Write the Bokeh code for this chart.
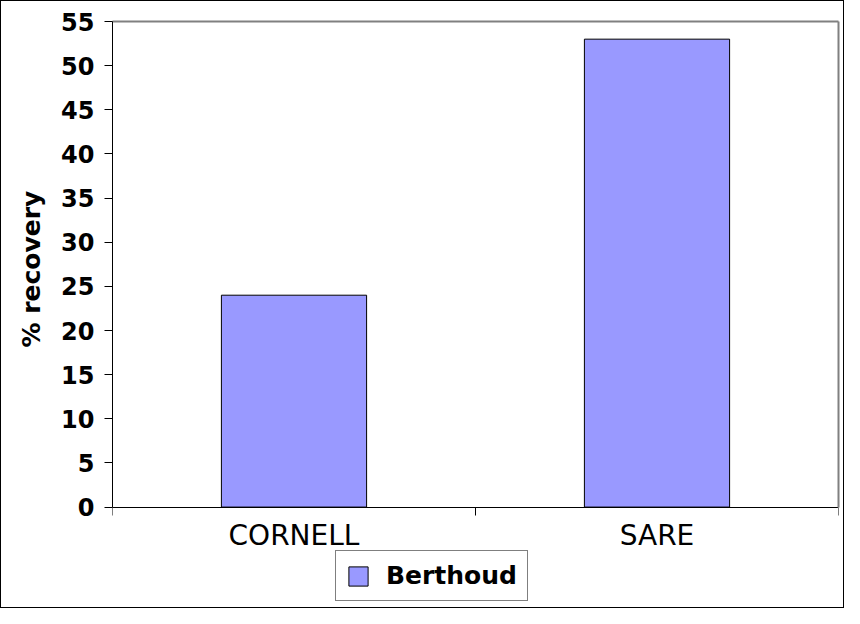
from bokeh.plotting import figure
from bokeh.models import ColumnDataSource, FixedTicker, Range1d, Legend, LegendItem, LinearAxis, Title
from bokeh.embed import file_html
from bokeh.resources import INLINE

categories = ["CORNELL", "SARE"]
recovery = [24, 53]
series_name = "Berthoud"
y_label = "% recovery"
y_ticks = [0, 5, 10, 15, 20, 25, 30, 35, 40, 45, 50, 55]
y_min, y_max = 0, 55

x_centers = [i + 0.5 for i in range(len(categories))]
x_bounds = [float(i) for i in range(len(categories) + 1)]

src = ColumnDataSource(data=dict(x=x_centers, top=recovery, cat=categories))

# the frame extends below zero to host the legend; x axis sits at y = 0
below_zero = 11.6
p = figure(width=844, height=608, output_backend="svg", toolbar_location=None,
           x_range=Range1d(0, len(categories)), y_range=Range1d(y_min - below_zero, y_max),
           min_border_left=104, min_border_right=7, min_border_top=20, min_border_bottom=0)
p.styles = {"border": "1px solid black"}
p.background_fill_color = "white"
p.border_fill_color = "white"
p.outline_line_color = None
p.xgrid.visible = False
p.ygrid.visible = False

r = p.vbar(x="x", top="top", width=0.4, bottom=0, source=src,
           fill_color="#9999ff", line_color="black", line_width=1)

# y axis
ya = p.yaxis[0]
ya.ticker = FixedTicker(ticks=y_ticks)
ya.bounds = (y_min, y_max)
ya.major_label_text_font = "DejaVu Sans"
ya.major_label_text_font_style = "bold"
ya.major_label_text_font_size = "24px"
ya.major_label_text_color = "black"
ya.major_tick_out = 8
ya.major_tick_in = 0
ya.minor_tick_line_color = None
ya.axis_line_color = "black"
ya.major_tick_line_color = "black"
ya.major_label_standoff = 10

# y axis title, placed alongside the 0..55 part of the axis
ytitle = Title(text=y_label, align="left", offset=262,
               text_font="DejaVu Sans", text_font_style="bold",
               text_font_size="25px", text_color="black", standoff=26)
p.add_layout(ytitle, "left")

# x axis at y = 0
xa = p.xaxis[0]
xa.fixed_location = 0
xa.ticker = FixedTicker(ticks=x_centers, minor_ticks=x_bounds)
xa.major_label_overrides = {c: lab for c, lab in zip(x_centers, categories)}
xa.major_tick_line_color = None
xa.minor_tick_line_color = "black"
xa.minor_tick_out = 8
xa.minor_tick_in = 0
xa.axis_line_color = "black"
xa.major_label_text_font = "DejaVu Sans"
xa.major_label_text_font_size = "28px"
xa.major_label_text_color = "black"
xa.major_label_standoff = 4

# grey plot-area border on top and right
top_ax = LinearAxis(ticker=FixedTicker(ticks=[]), axis_line_color="#808080", axis_line_width=2,
                    major_tick_line_color=None, minor_tick_line_color=None,
                    major_label_text_font_size="0px")
p.add_layout(top_ax, "above")
right_ax = LinearAxis(ticker=FixedTicker(ticks=[]), bounds=(y_min, y_max),
                      axis_line_color="#808080", axis_line_width=2,
                      major_tick_line_color=None, minor_tick_line_color=None,
                      major_label_text_font_size="0px")
p.add_layout(right_ax, "right")

legend = Legend(items=[LegendItem(label=series_name, renderers=[r])],
                location=(223, 8), orientation="horizontal")
legend.label_text_font = "DejaVu Sans"
legend.label_text_font_style = "bold"
legend.label_text_font_size = "25px"
legend.label_text_color = "black"
legend.glyph_width = 24
legend.glyph_height = 24
legend.label_standoff = 16
legend.padding = 10
legend.margin = 0
legend.border_line_color = "black"
legend.border_line_width = 1
legend.background_fill_color = "white"
legend.background_fill_alpha = 1
p.add_layout(legend, "center")

open("out.html", "w").write(file_html(p, INLINE))
